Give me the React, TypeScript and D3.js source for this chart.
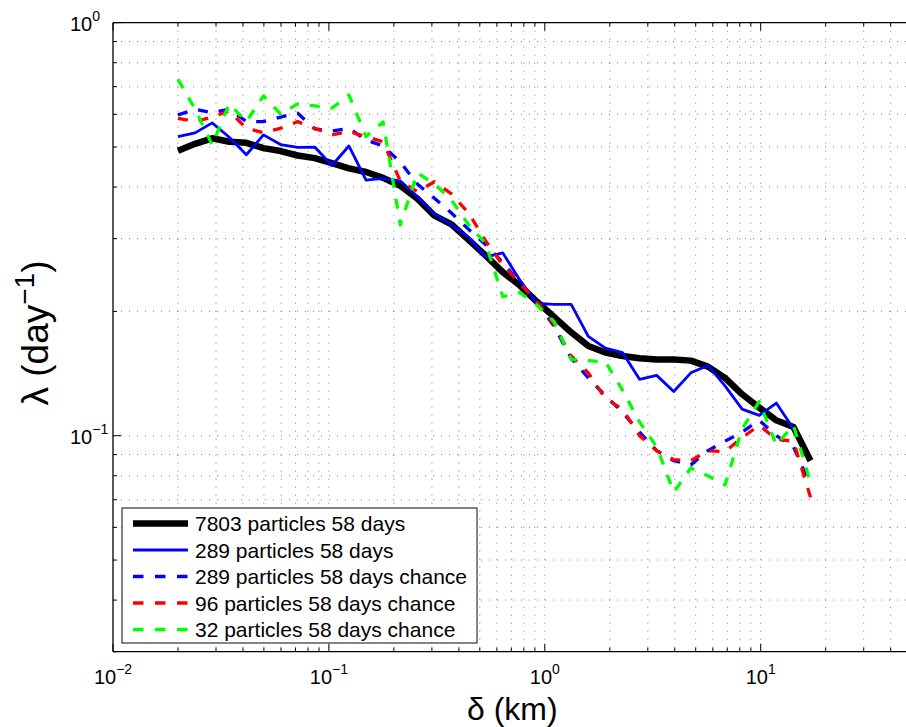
import React from 'react';
import * as d3 from 'd3';

// separation distance δ (km)
const distanceKm = [0.02, 0.024, 0.0288, 0.03456, 0.04147, 0.04977, 0.05972, 0.07166, 0.086, 0.1032, 0.1238, 0.1486, 0.1783, 0.214, 0.2568, 0.3081, 0.3698, 0.4437, 0.5325, 0.639, 0.7668, 0.9201, 1.104, 1.325, 1.59, 1.908, 2.29, 2.747, 3.297, 3.956, 4.748, 5.697, 6.836, 8.204, 9.845, 11.81, 14.18, 17.01];

const black7803 = [0.490, 0.509, 0.525, 0.515, 0.512, 0.497, 0.489, 0.477, 0.470, 0.457, 0.444, 0.435, 0.421, 0.403, 0.375, 0.341, 0.325, 0.298, 0.273, 0.249, 0.231, 0.211, 0.194, 0.178, 0.165, 0.159, 0.156, 0.154, 0.153, 0.153, 0.152, 0.147, 0.138, 0.126, 0.117, 0.109, 0.105, 0.087];
const blue289 = [0.530, 0.541, 0.572, 0.528, 0.479, 0.535, 0.507, 0.499, 0.500, 0.451, 0.503, 0.416, 0.420, 0.414, 0.379, 0.344, 0.324, 0.302, 0.271, 0.277, 0.238, 0.209, 0.208, 0.208, 0.174, 0.163, 0.159, 0.137, 0.140, 0.128, 0.142, 0.148, 0.132, 0.116, 0.112, 0.120, 0.104];
const blue289Chance = [0.598, 0.617, 0.605, 0.618, 0.576, 0.576, 0.591, 0.604, 0.553, 0.547, 0.555, 0.520, 0.503, 0.460, 0.407, 0.376, 0.346, 0.316, 0.290, 0.263, 0.234, 0.210, 0.184, 0.154, 0.138, 0.125, 0.114, 0.102, 0.092, 0.087, 0.085, 0.092, 0.097, 0.102, 0.109, 0.100, 0.094, 0.076];
const red96Chance = [0.587, 0.576, 0.591, 0.611, 0.555, 0.542, 0.555, 0.576, 0.555, 0.535, 0.545, 0.530, 0.515, 0.414, 0.390, 0.412, 0.385, 0.346, 0.296, 0.259, 0.234, 0.211, 0.186, 0.156, 0.142, 0.123, 0.116, 0.100, 0.092, 0.0875, 0.087, 0.092, 0.0915, 0.099, 0.106, 0.098, 0.097, 0.071];
const green32Chance = [0.729, 0.618, 0.506, 0.636, 0.576, 0.665, 0.601, 0.636, 0.629, 0.621, 0.668, 0.530, 0.575, 0.324, 0.433, 0.407, 0.372, 0.324, 0.292, 0.217, 0.222, 0.207, 0.189, 0.153, 0.152, 0.151, 0.129, 0.108, 0.094, 0.073, 0.0835, 0.080, 0.076, 0.104, 0.121, 0.095, 0.106, 0.077];

const legendLabels = [
  '7803 particles 58 days',
  '289 particles 58 days',
  '289 particles 58 days chance',
  '96 particles 58 days chance',
  '32 particles 58 days chance',
];
const xTickExponents = [-2, -1, 0, 1];
const yTickExponents = [-1, 0];

const FONT = '"Liberation Sans", Arial, Helvetica, sans-serif';

export default function App() {
  const W = 906, H = 727;
  const left = 113, top = 22.7, bottom = 651.7, right = 911.6;
  const x = d3.scaleLog().domain([0.01, 50]).range([left, right]);
  const y = d3.scaleLog().domain([0.03, 1]).range([bottom, top]);

  const line = d3.line<number>()
    .x((_, i) => x(distanceKm[i]))
    .y((d) => y(d));

  const series = [
    { data: black7803, color: '#000000', width: 6.5, dash: undefined as string | undefined },
    { data: blue289, color: '#0000ff', width: 2.8, dash: undefined },
    { data: blue289Chance, color: '#0000ff', width: 3.3, dash: '10 11' },
    { data: red96Chance, color: '#ff0000', width: 3.3, dash: '10 11' },
    { data: green32Chance, color: '#00ff00', width: 3.3, dash: '10 11' },
  ];

  const xGrid = x.ticks();
  const yGrid = y.ticks();
  const isDecade = (v: number) => Math.abs(Math.log10(v) - Math.round(Math.log10(v))) < 1e-9;

  const legX = 122, legY = 508, legW = 355, legH = 135;
  const rowY0 = 523.5, rowStep = 26.5;

  return (
    <svg width={W} height={H} style={{ position: 'absolute', left: 0, top: 0, background: '#fff' }} fontFamily={FONT}>
      <rect x={0} y={0} width={W} height={H} fill="#fff" />
      {/* grid */}
      <g stroke="#808080" strokeWidth={1} strokeDasharray="1 7">
        {xGrid.filter((v) => v > 0.0100001).map((v, i) => (
          <line key={'gx' + i} x1={x(v)} x2={x(v)} y1={top} y2={bottom} />
        ))}
        {yGrid.filter((v) => v > 0.0300001 && v < 0.99999).map((v, i) => (
          <line key={'gy' + i} x1={left} x2={W} y1={y(v)} y2={y(v)} />
        ))}
      </g>
      {/* ticks */}
      <g stroke="#000" strokeWidth={1}>
        {xGrid.map((v, i) => {
          const len = isDecade(v) ? 8 : 4;
          return (
            <g key={'tx' + i}>
              <line x1={x(v)} x2={x(v)} y1={bottom} y2={bottom - len} />
              <line x1={x(v)} x2={x(v)} y1={top} y2={top + len} />
            </g>
          );
        })}
        {yGrid.map((v, i) => {
          const len = isDecade(v) ? 8 : 4;
          return <line key={'ty' + i} x1={left} x2={left + len} y1={y(v)} y2={y(v)} />;
        })}
      </g>
      {/* data */}
      <g fill="none" strokeLinejoin="round">
        {series.map((s, i) => (
          <path key={'s' + i} d={line(s.data) || ''} stroke={s.color} strokeWidth={s.width} strokeDasharray={s.dash} />
        ))}
      </g>
      {/* frame */}
      <g stroke="#000" strokeWidth={1.3} fill="none">
        <line x1={left} x2={W} y1={top} y2={top} />
        <line x1={left} x2={W} y1={bottom} y2={bottom} />
        <line x1={left} x2={left} y1={top} y2={bottom} />
      </g>
      {/* x tick labels */}
      {xTickExponents.map((e) => (
        <text key={'xl' + e} x={x(Math.pow(10, e))} y={684} textAnchor="middle" fontSize={20} fill="#000">
          10<tspan dy={-10} fontSize={14}>{e < 0 ? '\u2212' + Math.abs(e) : String(e)}</tspan>
        </text>
      ))}
      {/* y tick labels */}
      {yTickExponents.map((e) => (
        <text key={'yl' + e} x={70} y={y(Math.pow(10, e)) + 8.5} textAnchor="start" fontSize={20} fill="#000">
          10<tspan dy={-10} fontSize={14}>{e < 0 ? '\u2212' + Math.abs(e) : String(e)}</tspan>
        </text>
      ))}
      {/* axis titles */}
      <text x={(left + right) / 2} y={720} textAnchor="middle" fontSize={32} fill="#000">δ (km)</text>
      <text transform={`translate(48,333) rotate(-90)`} textAnchor="middle" fontSize={37} fill="#000">
        λ (day<tspan dy={-14} fontSize={28}>{'\u2212'}1</tspan><tspan dy={14}>)</tspan>
      </text>
      {/* legend */}
      <rect x={legX} y={legY} width={legW} height={legH} fill="#fff" stroke="#333" strokeWidth={1.2} />
      {legendLabels.map((lab, i) => {
        const s = series[i];
        const ry = rowY0 + i * rowStep;
        return (
          <g key={'lg' + i}>
            <line x1={133} x2={188} y1={ry} y2={ry} stroke={s.color} strokeWidth={s.width} strokeDasharray={s.dash ? '10.5 11.5' : undefined} />
            <text x={195} y={ry + 7.5} fontSize={21} fill="#000">{lab}</text>
          </g>
        );
      })}
    </svg>
  );
}
